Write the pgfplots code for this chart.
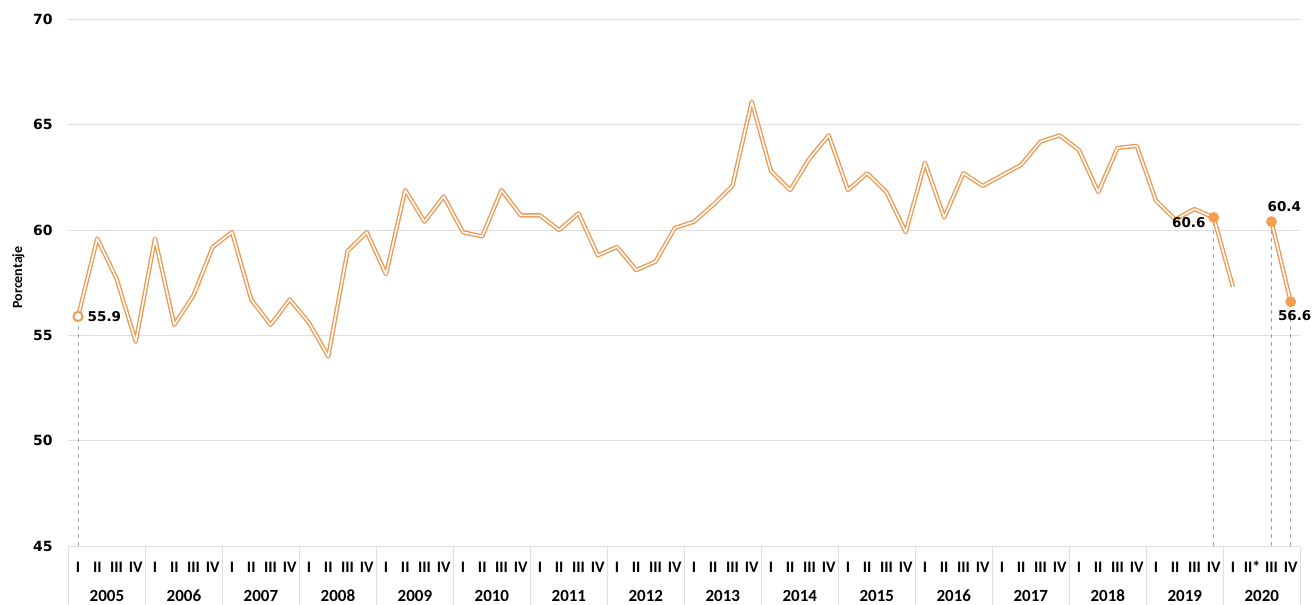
\documentclass[border=0pt]{standalone}
\usepackage{fontspec}
\setmainfont{Carlito}
\newfontfamily\dvs{DejaVu Sans}
\usepackage{pgfplots}
\pgfplotsset{compat=1.18}
\definecolor{lor}{RGB}{238,152,80}
\definecolor{mor}{RGB}{245,158,78}
\definecolor{gridc}{RGB}{222,222,222}
\definecolor{dashc}{RGB}{165,165,165}
\begin{document}
\begin{tikzpicture}
\begin{axis}[
  at={(0,0)}, anchor=south west,
  scale only axis,
  width=1232bp, height=526.5bp,
  xmin=-0.5, xmax=63.5,
  ymin=45, ymax=70,
  ytick={45,50,55,60,65,70},
  ymajorgrids=true,
  grid style={draw=gridc, line width=0.9bp},
  axis line style={draw=none},
  major tick length=0pt,
  xtick pos=lower, ytick pos=left,
  /pgf/number format/assume math mode=true,
  yticklabel style={font=\dvs\bfseries\fontsize{14bp}{16bp}\selectfont, inner sep=0pt, anchor=east, xshift=-15.5bp},
  xtick={0,...,63},
  xticklabels={I,II,III,IV,I,II,III,IV,I,II,III,IV,I,II,III,IV,I,II,III,IV,I,II,III,IV,I,II,III,IV,I,II,III,IV,I,II,III,IV,I,II,III,IV,I,II,III,IV,I,II,III,IV,I,II,III,IV,I,II,III,IV,I,II,III,IV,I,II*,III,IV},
  xticklabel style={font=\bfseries\fontsize{16bp}{18bp}\selectfont, inner sep=0pt, anchor=center, yshift=-21bp},
  extra x ticks={-0.5,3.5,7.5,11.5,15.5,19.5,23.5,27.5,31.5,35.5,39.5,43.5,47.5,51.5,55.5,59.5,63.5},
  extra x tick labels={},
  extra x tick style={major tick length=59bp, tick align=outside, tick style={draw=gridc, line width=0.9bp}},
  ylabel={Porcentaje},
  every axis y label/.style={at={(axis description cs:-0.0406,0.51)}, rotate=90, anchor=center, font=\bfseries\fontsize{14bp}{16bp}\selectfont},
  clip mode=individual,
]
% dashed droplines
\addplot[ycomb, draw=dashc, line width=0.9bp, dash pattern=on 4bp off 4bp] coordinates {(0,55.9) (59,60.6) (62,60.4) (63,56.6)};
% main series
\addplot[draw=lor, line width=1.35bp, double=white, double distance=1.6bp, line join=round, unbounded coords=jump] coordinates {
(0,55.9) (1,59.6) (2,57.7) (3,54.7) (4,59.6) (5,55.5) (6,56.9) (7,59.2)
(8,59.9) (9,56.7) (10,55.5) (11,56.7) (12,55.6) (13,54.0) (14,59.0) (15,59.9)
(16,57.9) (17,61.9) (18,60.4) (19,61.6) (20,59.9) (21,59.7) (22,61.9) (23,60.7)
(24,60.7) (25,60.0) (26,60.8) (27,58.8) (28,59.2) (29,58.1) (30,58.5) (31,60.1)
(32,60.4) (33,61.2) (34,62.1) (35,66.1) (36,62.8) (37,61.9) (38,63.4) (39,64.5)
(40,61.9) (41,62.7) (42,61.8) (43,59.9) (44,63.2) (45,60.6) (46,62.7) (47,62.1)
(48,62.6) (49,63.1) (50,64.2) (51,64.5) (52,63.8) (53,61.8) (54,63.9) (55,64.0)
(56,61.4) (57,60.5) (58,61.0) (59,60.6) (60,57.3) (61,nan) (62,60.4) (63,56.6)
};
% markers
\addplot[only marks, mark=*, mark size=4.6bp, mark options={fill=white, draw=lor, line width=1.9bp}] coordinates {(0,55.9)};
\addplot[only marks, mark=*, mark size=5.2bp, mark options={fill=mor, draw=mor}] coordinates {(59,60.6) (62,60.4) (63,56.6)};
% data labels
\begin{scope}[every node/.style={font=\dvs\bfseries\fontsize{13.5bp}{15bp}\selectfont, inner sep=0pt}]
\node[anchor=west, xshift=9.5bp] at (axis cs:0,55.9) {55.9};
\node[anchor=east, xshift=-8bp, yshift=-5bp] at (axis cs:59,60.6) {60.6};
\node[anchor=south west, xshift=-4bp, yshift=10bp] at (axis cs:62,60.4) {60.4};
\node[anchor=north, xshift=4bp, yshift=-9bp] at (axis cs:63,56.6) {56.6};
\end{scope}
% year labels
\begin{scope}[every node/.style={font=\bfseries\fontsize{17bp}{19bp}\selectfont, yshift=-50bp, inner sep=0pt}]
\node at (axis cs:1.5,45) {2005};
\node at (axis cs:5.5,45) {2006};
\node at (axis cs:9.5,45) {2007};
\node at (axis cs:13.5,45) {2008};
\node at (axis cs:17.5,45) {2009};
\node at (axis cs:21.5,45) {2010};
\node at (axis cs:25.5,45) {2011};
\node at (axis cs:29.5,45) {2012};
\node at (axis cs:33.5,45) {2013};
\node at (axis cs:37.5,45) {2014};
\node at (axis cs:41.5,45) {2015};
\node at (axis cs:45.5,45) {2016};
\node at (axis cs:49.5,45) {2017};
\node at (axis cs:53.5,45) {2018};
\node at (axis cs:57.5,45) {2019};
\node at (axis cs:61.5,45) {2020};
\end{scope}
\end{axis}
\pgfresetboundingbox
\path[use as bounding box] (-68.4bp,-59bp) rectangle (1244.6bp,546bp);
\end{tikzpicture}
\end{document}
